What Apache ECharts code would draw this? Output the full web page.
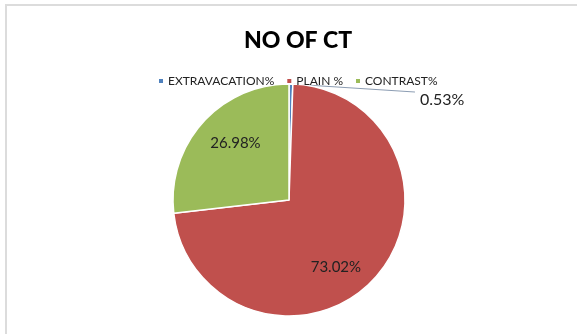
<!DOCTYPE html>
<html>
<head>
<meta charset="utf-8">
<title>NO OF CT</title>
<script src="https://cdn.jsdelivr.net/npm/echarts@6/dist/echarts.min.js"></script>
<style>
  html, body { margin: 0; padding: 0; background: #ffffff; }
  #chart { width: 577px; height: 334px; }
</style>
</head>
<body>
<div id="chart"></div>
<script>
// Share of CT scans by type
const categories = ['EXTRAVACATION%', 'PLAIN %', 'CONTRAST%'];
const values = [0.53, 73.02, 26.98];
const colors = ['#4F81BD', '#C0504D', '#9BBB59'];

// Per-slice label placement (offsets from the default spot)
const labelOffsets = [[0, 0], [2, 26], [-8, -16]];

const FONT = 'Lato, "Open Sans", "Liberation Sans", sans-serif';

const data = categories.map((name, i) => {
  const item = {
    name: name,
    value: values[i],
    itemStyle: { color: colors[i] }
  };
  if (i === 0) {
    item.label = {
      position: 'outside',
      fontSize: 16,
      color: '#222'
    };
    item.labelLine = {
      show: true,
      length: 2,
      length2: 124,
      lineStyle: { color: '#8C9DB3', width: 1 }
    };
  } else {
    item.label = {
      position: 'inside',
      offset: labelOffsets[i]
    };
    item.labelLine = { show: false };
  }
  return item;
});

const chart = echarts.init(document.getElementById('chart'), null, { renderer: 'canvas' });

chart.setOption({
  animation: false,
  backgroundColor: '#ffffff',
  title: {
    text: 'NO OF CT',
    left: 239,
    top: 24,
    textStyle: {
      fontFamily: FONT,
      fontSize: 23,
      fontWeight: 900,
      color: '#000000'
    }
  },
  legend: {
    data: categories,
    top: 70,
    left: 152,
    itemWidth: 6,
    itemHeight: 6,
    itemGap: 11,
    icon: 'rect',
    textStyle: {
      fontFamily: FONT,
      fontSize: 12,
      color: '#222222',
      padding: [0, 0, 0, -1]
    }
  },
  graphic: [
    {
      type: 'polyline',
      shape: { points: [[6, 334], [6, 5], [577, 5]] },
      style: { stroke: '#dcdcdc', lineWidth: 2, fill: null },
      silent: true
    }
  ],
  series: [
    {
      type: 'pie',
      center: [289, 200],
      radius: [0, 116],
      startAngle: 90,
      clockwise: true,
      avoidLabelOverlap: false,
      itemStyle: {
        borderColor: '#ffffff',
        borderWidth: 1.5
      },
      label: {
        show: true,
        fontFamily: FONT,
        fontSize: 15,
        color: '#222222',
        formatter: p => p.value.toFixed(2) + '%'
      },
      // The small outside label sits a little below its leader line
      labelLayout: function (params) {
        if (params.dataIndex === 0 && params.labelLinePoints) {
          const pts = params.labelLinePoints;
          const start = pts[0];
          const end = [pts[2][0], pts[2][1] + 10];
          return {
            dy: 18,
            labelLinePoints: [start, start, end]
          };
        }
        return {};
      },
      emphasis: { disabled: true },
      data: data
    }
  ]
});
</script>
</body>
</html>
